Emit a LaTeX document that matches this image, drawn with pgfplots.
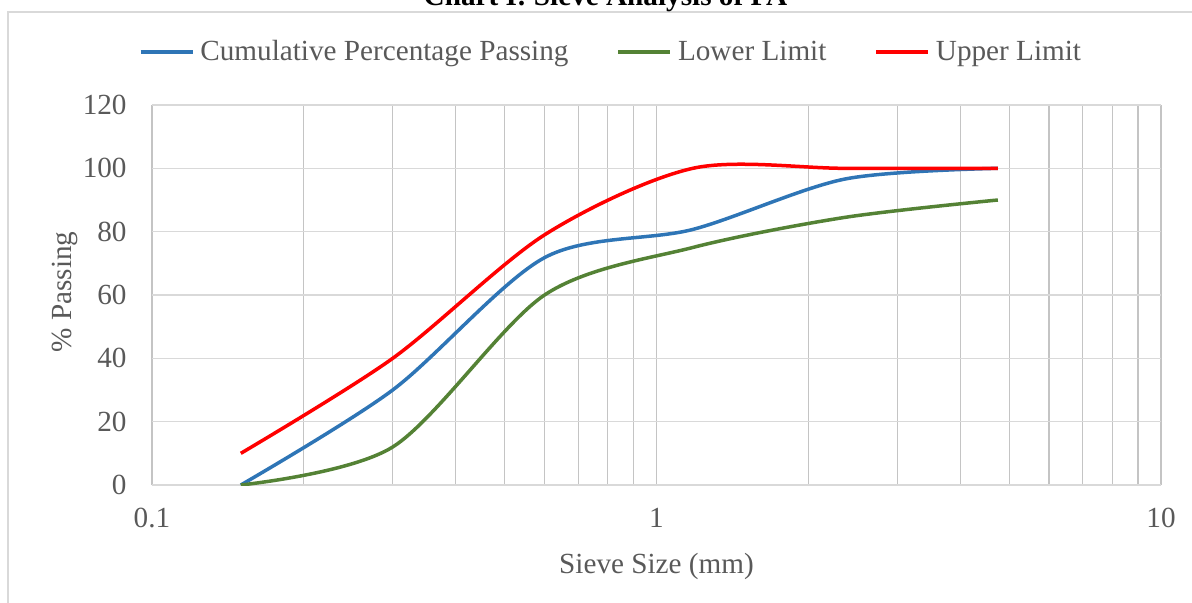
\documentclass[border=0pt]{standalone}
\usepackage{pgfplots}
\pgfplotsset{compat=1.18}
\usepackage{fontspec}
\setmainfont{Liberation Serif}
\definecolor{cblue}{HTML}{2E75B6}
\definecolor{cgreen}{HTML}{548235}
\definecolor{cred}{HTML}{FF0000}
\definecolor{txt}{HTML}{595959}
\definecolor{gridv}{HTML}{C4C4C4}
\definecolor{gridh}{HTML}{D9D9D9}
\newcommand\ff{\fontsize{14.6}{17}\selectfont}
\begin{document}
\begin{tikzpicture}
% chart frame (extends beyond the visible page, as in the reference)
\draw[gridh, line width=0.8pt] (4pt,-320pt) -- (4pt,-6pt) -- (610pt,-6pt);
\node[anchor=base, font=\ff\bfseries, text=black] at (302.75pt,-3pt) {Chart I: Sieve Analysis of FA};
\begin{axis}[
  at={(76pt,-242.5pt)}, anchor=south west,
  scale only axis, width=504.5pt, height=190pt,
  xmode=log, xmin=0.1, xmax=10, ymin=0, ymax=120,
  xtick={0.1,1,10}, xticklabels={0.1,1,10},
  ytick={0,20,40,60,80,100,120},
  /pgf/number format/assume math mode=true,
  grid=both,
  major x grid style={gridv, line width=0.6pt},
  minor x grid style={gridv, line width=0.6pt},
  major y grid style={gridh, line width=0.6pt},
  axis line style={draw=none},
  tick style={draw=none},
  xticklabel style={font=\ff, text=txt, inner sep=0pt, anchor=north, yshift=-11.5pt},
  yticklabel style={font=\ff, text=txt, inner sep=0pt, anchor=east, xshift=-12.5pt},
  xlabel={Sieve Size (mm)},
  ylabel={\% Passing},
  xlabel style={font=\ff, text=txt, at={(axis description cs:0.5,0)}, anchor=base, yshift=-44pt, inner sep=0pt},
  ylabel style={font=\ff, text=txt, at={(axis description cs:-0.0793,0.508)}, anchor=base, inner sep=0pt},
  legend columns=3,
  legend style={draw=none, fill=none, font=\ff, text=txt,
    at={(0.4539,1.1395)}, anchor=center, inner sep=0pt,
    nodes={inner sep=0pt},
    /tikz/every even column/.append style={column sep=24pt},
    /tikz/every odd column/.append style={column sep=3pt}},
  legend cell align=left,
  legend image code/.code={\draw[#1] plot coordinates {(0pt,0pt) (13pt,0pt) (26pt,0pt)};},
]
\addplot[cblue, line width=1.75pt, smooth, tension=0.5] coordinates {
  (0.15,0) (0.3,30) (0.6,71.8) (1.18,80.7) (2.36,96.6) (4.75,100)};
\addlegendentry{Cumulative Percentage Passing}
\addplot[cgreen, line width=1.75pt, smooth, tension=0.5] coordinates {
  (0.15,0) (0.3,12) (0.6,60) (1.18,75) (2.36,84.5) (4.75,90)};
\addlegendentry{Lower Limit}
\addplot[cred, line width=1.75pt, smooth, tension=0.5] coordinates {
  (0.15,10) (0.3,40) (0.6,79) (1.18,100) (2.36,100) (4.75,100)};
\addlegendentry{Upper Limit}
\end{axis}
\pgfresetboundingbox
\useasboundingbox (0pt,0pt) rectangle (596pt,-301.5pt);
\end{tikzpicture}
\end{document}
